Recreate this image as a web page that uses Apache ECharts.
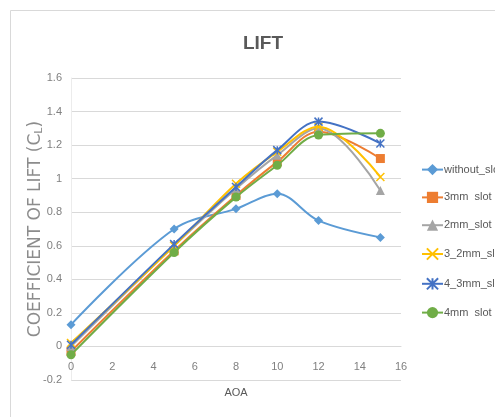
<!DOCTYPE html>
<html>
<head>
<meta charset="utf-8">
<script src="https://cdn.jsdelivr.net/npm/echarts@6/dist/echarts.min.js"></script>
<style>html,body{margin:0;padding:0;background:#fff}#c{width:495px;height:417px}</style>
</head>
<body>
<div id="c"></div>
<script>
var aoa = [0, 5, 8, 10, 12, 15];
var seriesNames = ['without_slot', '3mm  slot', '2mm_slot', '3_2mm_slot', '4_3mm_slot', '4mm  slot'];
var withoutSlot = [0.13, 0.70, 0.82, 0.91, 0.75, 0.65];
var slot3mm = [-0.03, 0.57, 0.90, 1.10, 1.28, 1.12];
var slot2mm = [0.00, 0.60, 0.94, 1.14, 1.30, 0.93];
var slot3_2mm = [0.02, 0.60, 0.97, 1.16, 1.31, 1.01];
var slot4_3mm = [0.01, 0.61, 0.95, 1.17, 1.34, 1.21];
var slot4mm = [-0.05, 0.56, 0.89, 1.08, 1.26, 1.27];
var xTicks = [0, 2, 4, 6, 8, 10, 12, 14, 16];
var yTicks = [-0.2, 0, 0.2, 0.4, 0.6, 0.8, 1, 1.2, 1.4, 1.6];

var colors = ['#5B9BD5', '#ED7D31', '#A5A5A5', '#FFC000', '#4472C4', '#70AD47'];
var symbols = ['diamond', 'rect', 'triangle',
  'path://M0,0L10,10M10,0L0,10',
  'path://M0,0L10,10M10,0L0,10M5,0L5,10',
  'circle'];
var sizes = [9, 9, 9, 8, 8, 9];
var allData = [withoutSlot, slot3mm, slot2mm, slot3_2mm, slot4_3mm, slot4mm];
var FONT = 'Liberation Sans, sans-serif';

var gridTop = 78, gridBottom = 37, H = 417;
var plotH = H - gridTop - gridBottom;
var yMin = yTicks[0], yMax = yTicks[yTicks.length - 1];
var zeroOffset = -plotH * (0 - yMin) / (yMax - yMin);

var series = allData.map(function (vals, i) {
  var stroked = i === 3 || i === 4;
  return {
    name: seriesNames[i],
    type: 'line',
    smooth: 0.35,
    data: aoa.map(function (x, j) { return [x, vals[j]]; }),
    symbol: symbols[i],
    symbolSize: sizes[i],
    lineStyle: { color: colors[i], width: 2 },
    itemStyle: stroked ? { color: 'rgba(0,0,0,0)', borderColor: colors[i], borderWidth: 1.5 } : { color: colors[i] },
    emphasis: { disabled: true },
    z: 2 + i
  };
});

var chart = echarts.init(document.getElementById('c'), null, { renderer: 'canvas' });
chart.setOption({
  animation: false,
  backgroundColor: '#fff',
  color: colors,
  graphic: [{
    type: 'rect', silent: true, z: -1,
    shape: { x: 10.5, y: 10.5, width: 500, height: 420 },
    style: { fill: 'none', stroke: '#d9d9d9', lineWidth: 1 }
  }],
  title: {
    text: 'LIFT', left: 258, top: 29, textAlign: 'center',
    textStyle: { fontFamily: FONT, fontSize: 19, fontWeight: 'bold', color: '#595959' }
  },
  legend: {
    orient: 'vertical', left: 421, top: 164, padding: 0,
    itemWidth: 21, itemHeight: 14, itemGap: 16.6,
    textStyle: { fontFamily: FONT, fontSize: 11, color: '#595959', padding: [0, 0, 0, -4] },
    data: seriesNames
  },
  grid: { left: 71, right: 94, top: gridTop, bottom: gridBottom, containLabel: false, outerBoundsMode: 'none' },
  xAxis: {
    type: 'value', min: xTicks[0], max: xTicks[xTicks.length - 1], interval: 2,
    position: 'bottom', offset: zeroOffset,
    name: 'AOA', nameLocation: 'middle', nameGap: 41, nameMoveOverlap: false,
    nameTextStyle: { fontFamily: FONT, fontSize: 11, color: '#595959' },
    axisLine: { onZero: false, lineStyle: { color: '#d9d9d9', width: 1 } },
    axisTick: { show: false },
    splitLine: { show: false },
    axisLabel: { margin: 15, fontFamily: FONT, fontSize: 11, color: '#808080' }
  },
  yAxis: {
    type: 'value', min: yMin, max: yMax, interval: 0.2,
    name: '{t|COEFFICIENT OF LIFT (C}{s|L}{t|)}', nameLocation: 'middle', nameGap: 26, nameRotate: 90,
    nameMoveOverlap: false,
    nameTextStyle: {
      rich: {
        t: { fontFamily: 'DejaVu Sans', fontSize: 17, color: '#8c8c8c' },
        s: { fontFamily: 'DejaVu Sans', fontSize: 11, color: '#8c8c8c', padding: [8, 0, 0, 0] }
      }
    },
    axisLine: { show: true, onZero: false, lineStyle: { color: '#ececec', width: 1 } },
    axisTick: { show: false },
    splitLine: { lineStyle: { color: '#d9d9d9', width: 1 } },
    axisLabel: { margin: 9, fontFamily: FONT, fontSize: 11, color: '#808080' }
  },
  series: series
});
</script>
</body>
</html>
